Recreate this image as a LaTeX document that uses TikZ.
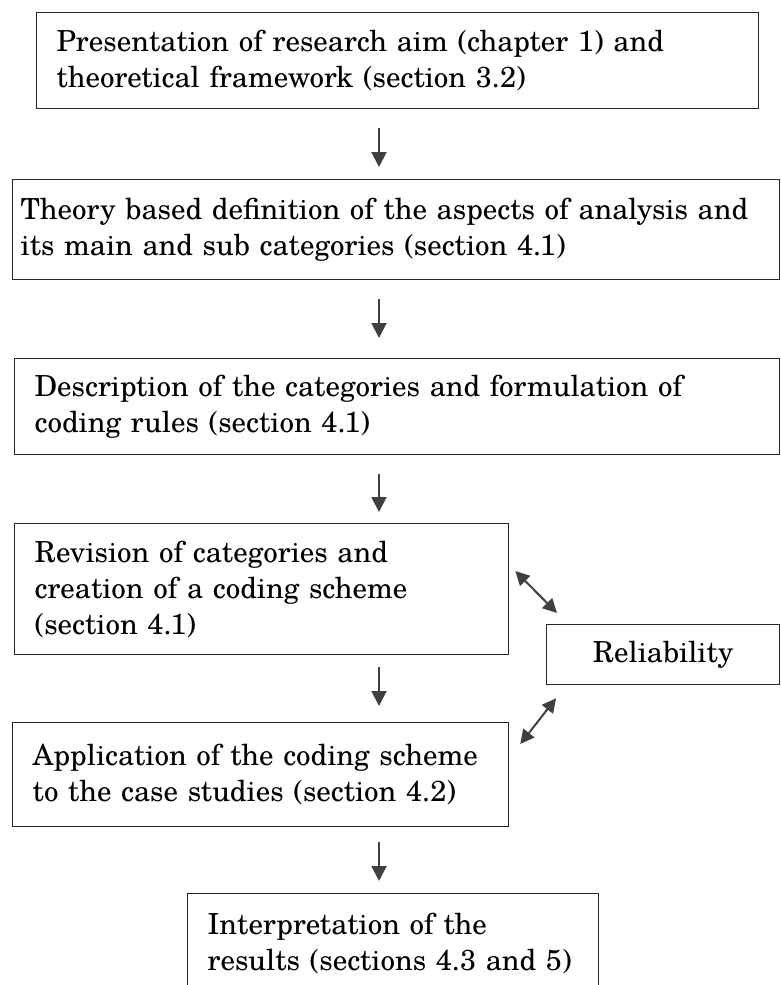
\documentclass[tikz,border=0pt]{standalone}
\usepackage{fontspec}
\setmainfont{TeX Gyre Schola}
\usetikzlibrary{arrows.meta,calc}
\begin{document}
\begin{tikzpicture}[x=1pt,y=-1pt,
  stage/.style={draw=black!85, line width=1.3pt, anchor=north west,
    inner xsep=20pt, inner ysep=0pt, align=left,
    font=\fontsize{29}{36}\selectfont},
  flow/.style={draw=black!75, line width=2pt,
    -{Triangle[length=15pt,width=15pt]}},
  link/.style={draw=black!75, line width=2pt,
    {Triangle[length=14pt,width=14pt]}-{Triangle[length=14pt,width=14pt]}}]
\useasboundingbox (0,0) rectangle (781,985);
\clip (0,0) rectangle (781,985);

% process steps
\node[stage, text width=682pt, minimum height=96pt] (b1) at (36,12)
  {Presentation of research aim (chapter 1) and\\theoretical framework (section 3.2)};
\node[stage, inner xsep=8pt, text width=751pt, minimum height=100pt] (b2) at (12,179)
  {Theory based definition of the aspects of analysis and\\its main and sub categories (section 4.1)};
\node[stage, text width=725pt, minimum height=96pt] (b3) at (14,358)
  {Description of the categories and formulation of\\coding rules (section 4.1)};
\node[stage, text width=454pt, minimum height=131pt] (b4) at (14,523)
  {Revision of categories and\\creation of a coding scheme\\(section 4.1)};
\node[stage, text width=456pt, minimum height=104pt] (b5) at (12,722)
  {Application of the coding scheme\\to the case studies (section 4.2)};
\node[stage, align=center, text width=193pt, minimum height=60pt] (rel) at (546,624)
  {Reliability};
\node[stage, text width=371pt, minimum height=100pt] (b6) at (187,893)
  {Interpretation of the\\results (sections 4.3 and 5)};

% vertical flow arrows
\coordinate (spine) at (379,0);
\draw[flow] ($(b1.south -| spine)+(0,19)$) -- ($(b2.north -| spine)+(0,-12)$);
\draw[flow] ($(b2.south -| spine)+(0,19)$) -- ($(b3.north -| spine)+(0,-20)$);
\draw[flow] ($(b3.south -| spine)+(0,19)$) -- ($(b4.north -| spine)+(0,-11)$);
\draw[flow] ($(b4.south -| spine)+(0,12)$) -- ($(b5.north -| spine)+(0,-16)$);
\draw[flow] ($(b5.south -| spine)+(0,15)$) -- ($(b6.north -| spine)+(0,-12)$);

% reliability feedback
\draw[link] ($(b4.north east)+(6,48)$) -- ($(rel.north west)+(11,-11)$);
\draw[link] ($(b5.north east)+(11,22)$) -- ($(rel.south west)+(10,13)$);
\end{tikzpicture}
\end{document}
